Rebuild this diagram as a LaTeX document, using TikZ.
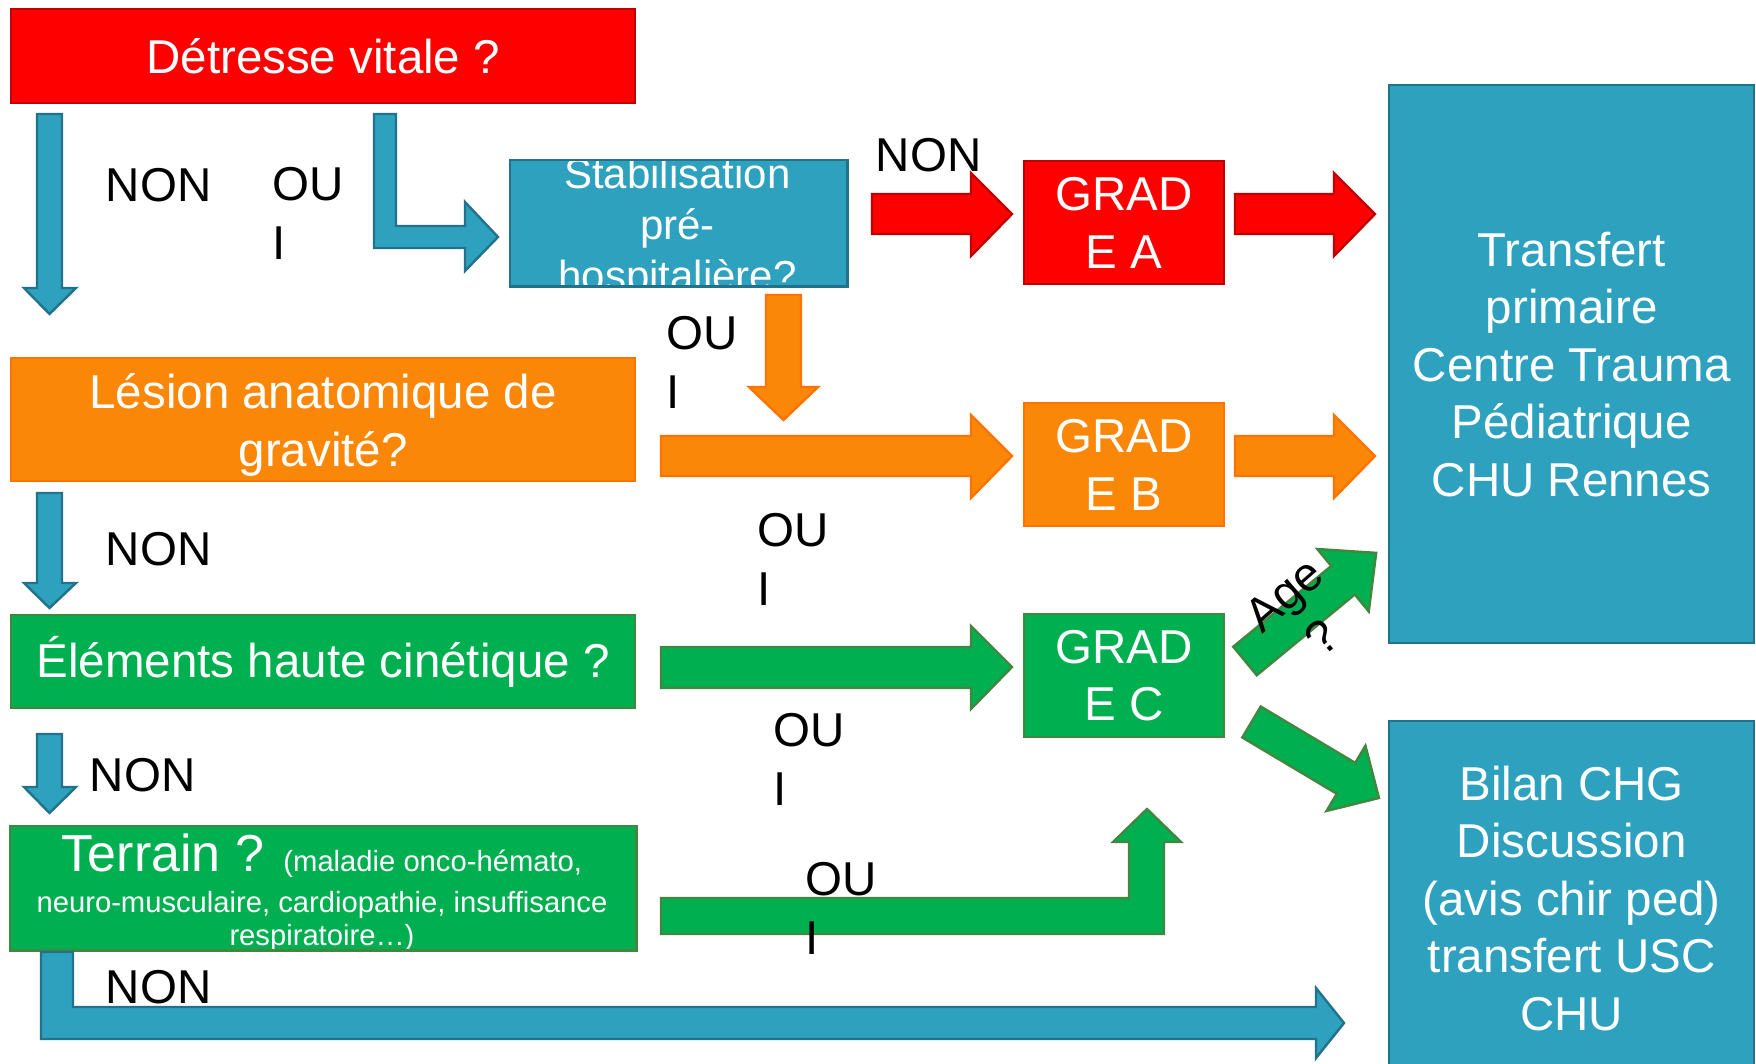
\documentclass[tikz,border=0pt]{standalone}
\usepackage{fontspec}
\setmainfont{Liberation Sans}
\usetikzlibrary{calc}
\definecolor{cred}{RGB}{255,0,0}
\definecolor{credb}{RGB}{192,0,0}
\definecolor{corange}{RGB}{251,135,8}
\definecolor{coranb}{RGB}{252,115,0}
\definecolor{cgreen}{RGB}{0,176,80}
\definecolor{cgreenb}{RGB}{64,135,64}
\definecolor{cblue}{RGB}{46,161,191}
\definecolor{cblueb}{RGB}{33,114,138}
\newcommand\fbig{\fontsize{23.75pt}{28.75pt}\selectfont}
\newcommand\fstab{\fontsize{21pt}{25.5pt}\selectfont}
\newcommand\flab{\fontsize{23.75pt}{29.5pt}\selectfont}
\begin{document}
\begin{tikzpicture}[x=0.5pt,y=-0.5pt,
  box/.style={line width=1.2pt, inner sep=0pt, anchor=north west, text=white, align=center, font=\fbig},
  redbox/.style={box, fill=cred, draw=credb},
  orbox/.style={box, fill=corange, draw=coranb},
  grbox/.style={box, fill=cgreen, draw=cgreenb},
  blbox/.style={box, fill=cblue, draw=cblueb},
  barrow/.style={line width=1.2pt, line join=miter},
  redarr/.style={barrow, fill=cred, draw=credb},
  orarr/.style={barrow, fill=corange, draw=coranb},
  grarr/.style={barrow, fill=cgreen, draw=cgreenb},
  blarr/.style={barrow, fill=cblue, draw=cblueb},
  lab/.style={anchor=north west, inner sep=0pt, font=\flab, text=black, align=left}]
\path[use as bounding box, clip] (0,0) rectangle (1756,1064);
\fill[white] (0,0) rectangle (1756,1064);

% ---- boxes ----
\node[redbox, minimum width=312pt, minimum height=47pt] (detresse) at (10,8) {Détresse vitale ?};
\node[blbox, draw=none, minimum width=167.5pt, minimum height=62pt] (stab) at (510,160) {};
\begin{scope}
  \clip (stab.south west) rectangle (stab.north east);
  \node[inner sep=0pt, anchor=north, font=\fstab, text=white, align=center] (stabtext) at (677.5,157.5) {Stabilisation\\pré-\\hospitalière?};
\end{scope}
\draw[cblueb, line width=1.2pt] (stab.south west) rectangle (stab.north east);

\node[redbox, minimum width=100pt, minimum height=61.5pt] (gradeA) at (1023,160) {GRAD\\E A};
\node[orbox, minimum width=100pt, minimum height=61.5pt] (gradeB) at (1023,402) {GRAD\\E B};
\node[grbox, minimum width=100pt, minimum height=61.5pt] (gradeC) at (1023,613) {GRAD\\E C};

\node[blbox, minimum width=182.5pt, minimum height=279pt] (transfert) at (1388,84) {Transfert\\primaire\\Centre Trauma\\Pédiatrique\\CHU Rennes};
\node[blbox, minimum width=182.5pt, minimum height=177pt] (bilan) at (1388,720) {Bilan CHG\\Discussion\\(avis chir ped)\\transfert USC\\CHU};

\node[orbox, minimum width=312pt, minimum height=61.5pt] (lesion) at (10,357) {\rule{0pt}{22.6pt}Lésion anatomique de\\gravité?};
\node[grbox, minimum width=312pt, minimum height=46.5pt] (elements) at (10,614) {Éléments haute cinétique ?};

\node[grbox, draw=none, minimum width=312pt, minimum height=61pt] (terrain) at (10,826) {};
\begin{scope}
  \clip (terrain.south west) rectangle (terrain.north east);
  \node[inner sep=0pt, anchor=north, text=white, align=center, font=\fontsize{14.6pt}{16.5pt}\selectfont] (terraintext) at (322,833)
   {{\fontsize{26pt}{30pt}\selectfont Terrain ? }(maladie onco-hémato,\\[4pt]neuro-musculaire, cardiopathie, insuffisance\\respiratoire…)};
\end{scope}
\draw[cgreenb, line width=1.2pt] (terrain.south west) rectangle (terrain.north east);

% ---- block arrows ----
\draw[blarr] (37,114)--(62,114)--(62,288)--(76,288)--(49.5,314)--(24,288)--(37,288)--cycle;
\draw[blarr] (374,114)--(396,114)--(396,226)--(465,226)--(465,202)--(498,237)--(465,271)--(465,248)--(374,248)--cycle;
\draw[blarr] (37,493)--(62,493)--(62,583)--(76,583)--(49.5,608)--(24,583)--(37,583)--cycle;
\draw[blarr] (37,734)--(62,734)--(62,787)--(76,787)--(49.5,813)--(24,787)--(37,787)--cycle;
\draw[blarr] (41,952)--(73,952)--(73,1007)--(1316,1007)--(1316,988)--(1344,1023)--(1316,1058)--(1316,1039)--(41,1039)--cycle;

\draw[redarr] (872,194)--(971,194)--(971,173)--(1012,214)--(971,256)--(971,234)--(872,234)--cycle;
\draw[redarr] (1235,194)--(1334,194)--(1334,173)--(1375,214)--(1334,256)--(1334,234)--(1235,234)--cycle;

\draw[orarr] (766,295)--(801,295)--(801,387)--(818,387)--(783.5,420)--(749,387)--(766,387)--cycle;
\draw[orarr] (661,436)--(971,436)--(971,415)--(1012,456)--(971,498)--(971,476)--(661,476)--cycle;
\draw[orarr] (1235,436)--(1334,436)--(1334,415)--(1375,456)--(1334,498)--(1334,476)--(1235,476)--cycle;

\draw[grarr] (661,647)--(971,647)--(971,626)--(1012,667)--(971,709)--(971,688)--(661,688)--cycle;
\draw[grarr] (661,898)--(1129,898)--(1129,842)--(1113,842)--(1147,809)--(1181,842)--(1164,842)--(1164,934)--(661,934)--cycle;
\begin{scope}[shift={(1245,661)}, rotate=39.5]
  \draw[grarr] (0,-18.5)--(127,-18.5)--(127,-40.5)--(170,0)--(127,40.5)--(127,18.5)--(0,18.5)--cycle;
\end{scope}
\begin{scope}[shift={(1251.5,722)}, rotate=-30.8]
  \draw[grarr] (0,-18)--(110,-18)--(110,-38)--(148.4,0)--(110,38)--(110,18)--(0,18)--cycle;
\end{scope}

% ---- labels ----
\node[lab] (non1) at (105.4,168) {NON};
\node[lab] (oui1) at (271.7,167) {OU\\I};
\node[lab] (non2) at (875.4,138) {NON};
\node[lab] (oui2) at (665.7,316) {OU\\I};
\node[lab] (non3) at (105.4,532) {NON};
\node[lab] (oui3) at (756.7,513) {OU\\I};
\node[lab] (oui4) at (772.7,713) {OU\\I};
\node[lab] (non4) at (89.4,758) {NON};
\node[lab] (oui5) at (804.7,862) {OU\\I};
\node[lab] (non5) at (105.4,970) {NON};
\node[inner sep=0pt, font=\fbig, align=center, rotate=41] (age) at (1303,616) {Age\\?};
\end{tikzpicture}
\end{document}
